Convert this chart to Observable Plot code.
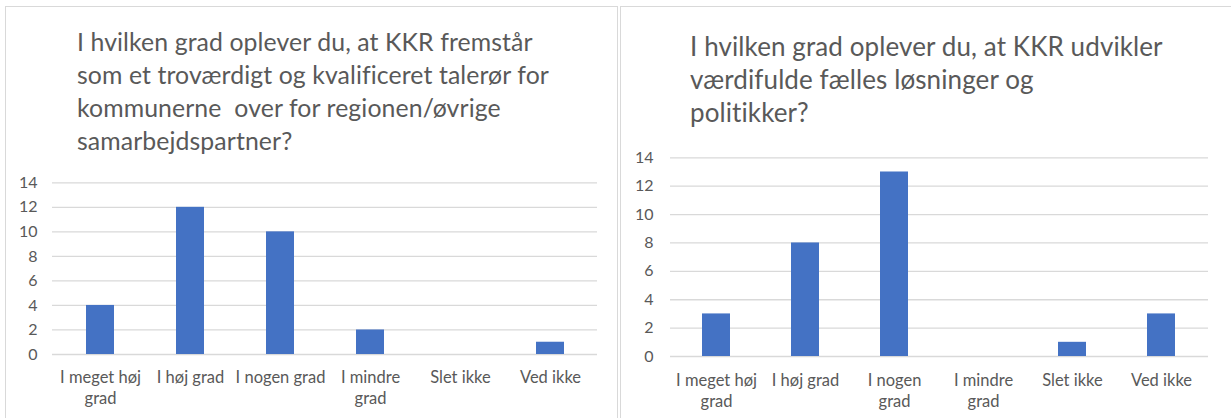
<!DOCTYPE html>
<html>
<head>
<meta charset="utf-8">
<script src="https://cdn.jsdelivr.net/npm/d3@7"></script>
<script src="https://cdn.jsdelivr.net/npm/@observablehq/plot@0.6"></script>
<style>
  html, body { margin: 0; padding: 0; background: #fff; }
  body { width: 1231px; height: 418px; position: relative; overflow: hidden; font-family: Lato, "Open Sans", sans-serif; }
  .panel { position: absolute; border: 1px solid #d9d9d9; box-sizing: border-box; background: #fff; }
  .title { position: absolute; color: #595959; line-height: 33px; white-space: pre; font-family: Lato, sans-serif; letter-spacing: 0.1px; }
  .chart { position: absolute; top: 0; }
</style>
</head>
<body>
<div class="panel" style="left:5px; top:6px; width:613px; height:430px;"></div>
<div class="panel" style="left:620px; top:6px; width:620px; height:430px;"></div>
<div id="t1" class="title" style="left:77px; top:25px; font-size:24.8px;"></div>
<div id="t2" class="title" style="left:690px; top:30px; font-size:26px;"></div>
<div id="c1" class="chart" style="left:0px;"></div>
<div id="c2" class="chart" style="left:617px;"></div>
<script>
// ---- data ----
const categories = ["I meget høj grad", "I høj grad", "I nogen grad", "I mindre grad", "Slet ikke", "Ved ikke"];
const labels1 = ["I meget høj\ngrad", "I høj grad", "I nogen grad", "I mindre\ngrad", "Slet ikke", "Ved ikke"];
const labels2 = ["I meget høj\ngrad", "I høj grad", "I nogen\ngrad", "I mindre\ngrad", "Slet ikke", "Ved ikke"];
const values1 = [4, 12, 10, 2, 0, 1];
const values2 = [3, 8, 13, 0, 1, 3];
const yTicks = [0, 2, 4, 6, 8, 10, 12, 14];
const title1 = "I hvilken grad oplever du, at KKR fremstår\nsom et troværdigt og kvalificeret talerør for\nkommunerne  over for regionen/øvrige\nsamarbejdspartner?";
const title2 = "I hvilken grad oplever du, at KKR udvikler\nværdifulde fælles løsninger og\npolitikker?";

document.getElementById("t1").textContent = title1;
document.getElementById("t2").textContent = title2;

function chart(values, labels, o) {
  const data = categories.map((c, i) => ({cat: c, value: values[i]}));
  const labelOf = new Map(categories.map((c, i) => [c, labels[i]]));
  return Plot.plot({
    width: o.width,
    height: 418,
    marginLeft: o.ml,
    marginRight: o.mr,
    marginTop: o.mt,
    marginBottom: o.mb,
    style: {fontFamily: "Lato, sans-serif", fontSize: "16.5px", color: "#595959", background: "transparent"},
    x: {domain: categories, paddingInner: o.pad, paddingOuter: o.pad / 2, label: null},
    y: {domain: [0, 14], label: null},
    marks: [
      Plot.ruleY(yTicks, {stroke: "#d9d9d9", strokeWidth: 1.3}),
      Plot.barY(data, {x: "cat", y: "value", fill: "#4472C4"}),
      Plot.axisY({ticks: yTicks, tickSize: 0, tickPadding: o.ytp, label: null, fill: "#595959", fontSize: 16}),
      Plot.axisX({tickSize: 0, tickPadding: o.xtp, tickFormat: d => labelOf.get(d), lineHeight: 1.25, label: null, fill: "#595959"})
    ]
  });
}

document.getElementById("c1").append(chart(values1, labels1, {width: 617, ml: 52, mr: 20, mt: 182.3, mb: 64, pad: 0.69, ytp: 15, xtp: 14}));
document.getElementById("c2").append(chart(values2, labels2, {width: 614, ml: 53, mr: 23, mt: 157.3, mb: 62, pad: 0.685, ytp: 17, xtp: 15}));
</script>
</body>
</html>
